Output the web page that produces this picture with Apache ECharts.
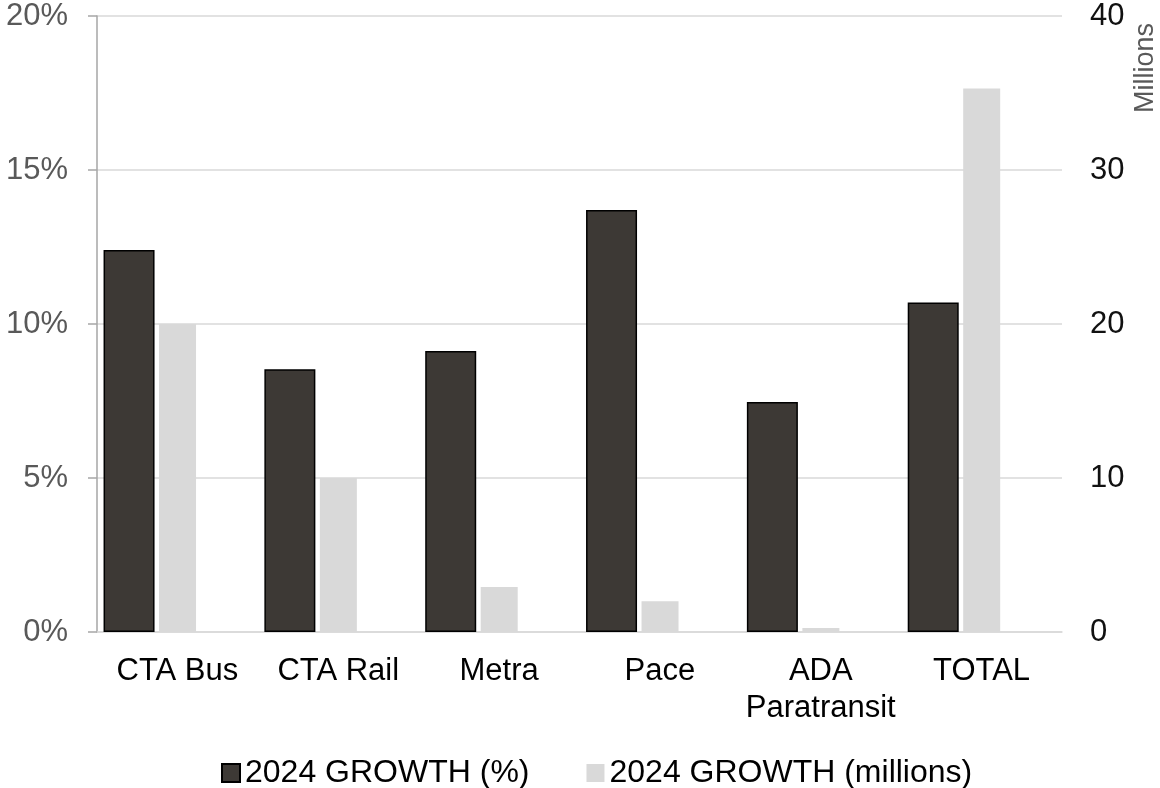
<!DOCTYPE html>
<html>
<head>
<meta charset="utf-8">
<script src="https://cdn.jsdelivr.net/npm/echarts@6/dist/echarts.min.js"></script>
<style>
html,body{margin:0;padding:0;background:#fff;}
#chart{width:1160px;height:788px;}
</style>
</head>
<body>
<div id="chart"></div>
<script>
const categories = ['CTA Bus', 'CTA Rail', 'Metra', 'Pace', 'ADA\nParatransit', 'TOTAL'];
const growthPct = [12.4, 8.53, 9.12, 13.7, 7.47, 10.7];
const growthMillions = [20.0, 10.0, 2.92, 2.0, 0.26, 35.3];
const leftTicks = { min: 0, max: 20, interval: 5 };
const rightTicks = { min: 0, max: 40, interval: 10 };
const seriesNames = ['2024 GROWTH (%)', '2024 GROWTH (millions)'];

const FONT = '"Liberation Sans", Arial, sans-serif';
const chart = echarts.init(document.getElementById('chart'));
chart.setOption({
  animation: false,
  backgroundColor: '#fff',
  textStyle: { fontFamily: FONT },
  grid: { left: 97, right: 98, top: 16, bottom: 156, containLabel: false },
  legend: {
    data: seriesNames,
    top: 752,
    left: 216,
    itemWidth: 18,
    itemHeight: 18,
    itemGap: 57,
    icon: 'rect',
    textStyle: { fontSize: 32, color: '#000', fontFamily: FONT }
  },
  xAxis: {
    type: 'category',
    data: categories,
    axisLine: { show: true, lineStyle: { color: '#d9d9d9', width: 1.5 } },
    axisTick: { show: false },
    axisLabel: { fontSize: 31, color: '#000', margin: 21, lineHeight: 37, fontFamily: FONT, interval: 0 },
    splitLine: { show: false }
  },
  yAxis: [
    {
      type: 'value',
      min: leftTicks.min, max: leftTicks.max, interval: leftTicks.interval,
      axisLine: { show: true, lineStyle: { color: '#a6a6a6', width: 1.5 } },
      axisTick: { show: true, length: 9, lineStyle: { color: '#a6a6a6', width: 1.5 } },
      axisLabel: { formatter: '{value}%', fontSize: 31, color: '#595959', margin: 29, fontFamily: FONT },
      splitLine: { show: true, lineStyle: { color: '#d9d9d9', width: 1.5 } }
    },
    {
      type: 'value',
      min: rightTicks.min, max: rightTicks.max, interval: rightTicks.interval,
      axisLine: { show: false },
      axisTick: { show: false },
      axisLabel: { fontSize: 31, color: '#111', margin: 28, fontFamily: FONT },
      splitLine: { show: false }
    }
  ],
  graphic: [{
    type: 'text',
    x: 1146, y: 68,
    rotation: Math.PI / 2,
    style: { text: 'Millions', fontSize: 27, fill: '#595959', fontFamily: FONT, align: 'center', verticalAlign: 'middle' }
  }],
  series: [
    {
      name: seriesNames[0],
      type: 'bar',
      yAxisIndex: 0,
      data: growthPct,
      barWidth: 51,
      barGap: '8.8%',
      itemStyle: { color: '#3d3935', borderColor: '#000', borderWidth: 1.5 }
    },
    {
      name: seriesNames[1],
      type: 'bar',
      yAxisIndex: 1,
      data: growthMillions,
      barWidth: 37,
      barGap: '8.8%',
      itemStyle: { color: '#d9d9d9' }
    },
    {
      name: 'spacer',
      type: 'bar',
      yAxisIndex: 0,
      data: categories.map(() => null),
      barWidth: 52,
      barGap: '8.8%',
      silent: true,
      itemStyle: { color: 'rgba(0,0,0,0)' }
    }
  ]
});
</script>
</body>
</html>
